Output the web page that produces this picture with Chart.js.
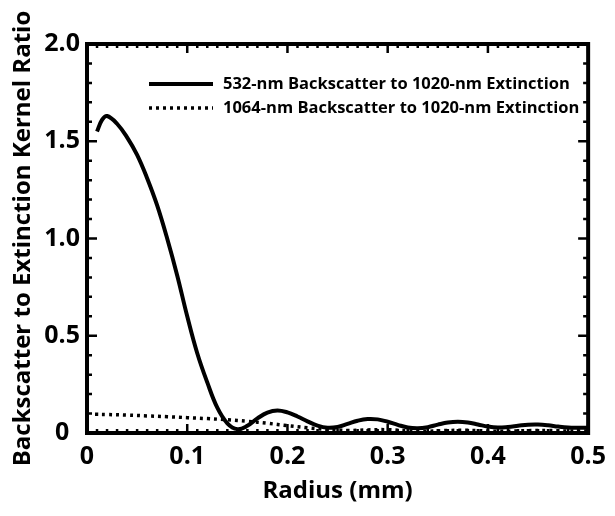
<!DOCTYPE html>
<html>
<head>
<meta charset="utf-8">
<title>Backscatter to Extinction Kernel Ratio</title>
<script src="https://cdn.jsdelivr.net/npm/chart.js@4.4.0/dist/chart.umd.min.js"></script>
<style>
    html, body { margin: 0; padding: 0; background: #ffffff; }
    #wrap { width: 615px; height: 516px; }
</style>
</head>
<body>
<div id="wrap"><canvas id="kernelChart" width="615" height="516"></canvas></div>
<script>
// Dados
const radius532 = [0.01, 0.015, 0.02, 0.03, 0.04, 0.05, 0.06, 0.07, 0.08, 0.09, 0.10,
    0.11, 0.12, 0.13, 0.14, 0.15, 0.16, 0.17, 0.18, 0.19, 0.20,
    0.21, 0.22, 0.23, 0.24, 0.25, 0.26, 0.27, 0.28, 0.29, 0.30,
    0.31, 0.32, 0.33, 0.34, 0.35, 0.36, 0.37, 0.38, 0.39, 0.40,
    0.41, 0.42, 0.43, 0.44, 0.45, 0.46, 0.47, 0.48, 0.49, 0.50];
const ratio532 = [1.55, 1.61, 1.63, 1.59, 1.52, 1.43, 1.31, 1.17, 1.00, 0.81, 0.60,
    0.41, 0.26, 0.13, 0.05, 0.02, 0.037, 0.075, 0.105, 0.116, 0.106,
    0.085, 0.060, 0.038, 0.027, 0.031, 0.047, 0.063, 0.072, 0.070, 0.058,
    0.042, 0.028, 0.024, 0.030, 0.043, 0.054, 0.058, 0.054, 0.044, 0.033,
    0.028, 0.031, 0.037, 0.043, 0.044, 0.040, 0.033, 0.028, 0.027, 0.027];

const radius1064 = [0.008, 0.02, 0.04, 0.06, 0.08, 0.10, 0.12, 0.14, 0.16, 0.18, 0.20,
    0.22, 0.24, 0.26, 0.28, 0.30, 0.32, 0.34, 0.36, 0.38, 0.40,
    0.42, 0.44, 0.46, 0.48, 0.50];
const ratio1064 = [0.096, 0.095, 0.092, 0.088, 0.084, 0.079, 0.074, 0.068, 0.060, 0.050, 0.038,
    0.027, 0.018, 0.013, 0.016, 0.017, 0.011, 0.009, 0.013, 0.014, 0.010,
    0.009, 0.012, 0.013, 0.010, 0.010];

const seriesLabels = ['532-nm Backscatter to 1020-nm Extinction', '1064-nm Backscatter to 1020-nm Extinction'];
const xTicks = [0, 0.1, 0.2, 0.3, 0.4, 0.5];
const yTicks = [0, 0.5, 1.0, 1.5, 2.0];
const xMinorStep = 0.01;
const yMinorStep = 0.1;

const FONT = "'Open Sans', 'DejaVu Sans', sans-serif";

function fmtTick(v) {
    return v === 0 ? '0' : v.toFixed(1);
}

// Moldura + ticks para dentro
const frameTicks = {
    id: 'frameTicks',
    afterDatasetsDraw(chart) {
        const { ctx, chartArea: a, scales: { x, y } } = chart;
        ctx.save();
        ctx.strokeStyle = '#000';
        ctx.lineWidth = 2.5;
        ctx.beginPath();
        const nx = Math.round((x.max - x.min) / xMinorStep);
        for (let i = 0; i <= nx; i++) {
            const px = x.getPixelForValue(x.min + i * xMinorStep);
            const len = i % 10 === 0 ? 9 : 4;
            ctx.moveTo(px, a.bottom); ctx.lineTo(px, a.bottom - len);
            ctx.moveTo(px, a.top); ctx.lineTo(px, a.top + len);
        }
        const ny = Math.round((y.max - y.min) / yMinorStep);
        for (let i = 0; i <= ny; i++) {
            const py = y.getPixelForValue(y.min + i * yMinorStep);
            const len = i % 5 === 0 ? 10 : 5;
            ctx.moveTo(a.left, py); ctx.lineTo(a.left + len, py);
            ctx.moveTo(a.right, py); ctx.lineTo(a.right - len, py);
        }
        ctx.stroke();
        ctx.lineWidth = 4;
        ctx.strokeRect(a.left, a.top, a.right - a.left, a.bottom - a.top);
        ctx.restore();
    }
};

// Legenda dentro da área do gráfico
const insideLegend = {
    id: 'insideLegend',
    afterDraw(chart) {
        const { ctx } = chart;
        const x0 = 149, x1 = 213, tx = 223;
        const rows = [84, 108];
        ctx.save();
        chart.data.datasets.forEach((ds, i) => {
            const yy = rows[i];
            ctx.strokeStyle = ds.borderColor;
            ctx.lineWidth = ds.borderWidth;
            ctx.setLineDash(ds.borderDash || []);
            ctx.beginPath();
            ctx.moveTo(x0, yy);
            ctx.lineTo(x1, yy);
            ctx.stroke();
            ctx.setLineDash([]);
            ctx.fillStyle = '#000';
            ctx.font = `700 16.5px ${FONT}`;
            ctx.textBaseline = 'middle';
            ctx.textAlign = 'left';
            ctx.fillText(ds.label, tx, yy);
        });
        ctx.restore();
    }
};

const ctx = document.getElementById('kernelChart').getContext('2d');

new Chart(ctx, {
    type: 'line',
    data: {
        datasets: [
            {
                label: seriesLabels[0],
                data: radius532.map((r, i) => ({ x: r, y: ratio532[i] })),
                borderColor: '#000',
                borderWidth: 4,
                pointRadius: 0,
                tension: 0.4,
                fill: false
            },
            {
                label: seriesLabels[1],
                data: radius1064.map((r, i) => ({ x: r, y: ratio1064[i] })),
                borderColor: '#000',
                borderWidth: 3.5,
                borderDash: [3, 4],
                pointRadius: 0,
                tension: 0.4,
                fill: false
            }
        ]
    },
    options: {
        responsive: false,
        devicePixelRatio: 1,
        animation: false,
        layout: { padding: { top: 44, right: 22, left: 0, bottom: 0 } },
        plugins: { legend: { display: false }, tooltip: { enabled: false } },
        scales: {
            x: {
                type: 'linear',
                min: 0,
                max: 0.5,
                afterBuildTicks: s => { s.ticks = xTicks.map(v => ({ value: v })); },
                afterFit: s => { s.height = 83; },
                grid: { display: false, drawTicks: false },
                border: { display: false },
                ticks: {
                    color: '#000',
                    font: { family: FONT, size: 25, weight: '700' },
                    padding: 9,
                    maxRotation: 0,
                    autoSkip: false,
                    callback: v => fmtTick(v)
                },
                title: {
                    display: true,
                    text: 'Radius (mm)',
                    color: '#000',
                    font: { family: FONT, size: 24, weight: '700' },
                    padding: { top: 0, bottom: 10 }
                }
            },
            y: {
                type: 'linear',
                min: 0,
                max: 2,
                afterBuildTicks: s => { s.ticks = yTicks.map(v => ({ value: v })); },
                afterFit: s => { s.width = 87; },
                grid: { display: false, drawTicks: false },
                border: { display: false },
                ticks: {
                    color: '#000',
                    font: { family: FONT, size: 25, weight: '700' },
                    padding: 7,
                    crossAlign: 'center',
                    autoSkip: false,
                    callback: v => fmtTick(v)
                },
                title: {
                    display: true,
                    text: 'Backscatter to Extinction Kernel Ratio',
                    color: '#000',
                    font: { family: FONT, size: 24, weight: '700' },
                    padding: { top: 9, bottom: 0 }
                }
            }
        }
    },
    plugins: [frameTicks, insideLegend]
});
</script>
</body>
</html>
